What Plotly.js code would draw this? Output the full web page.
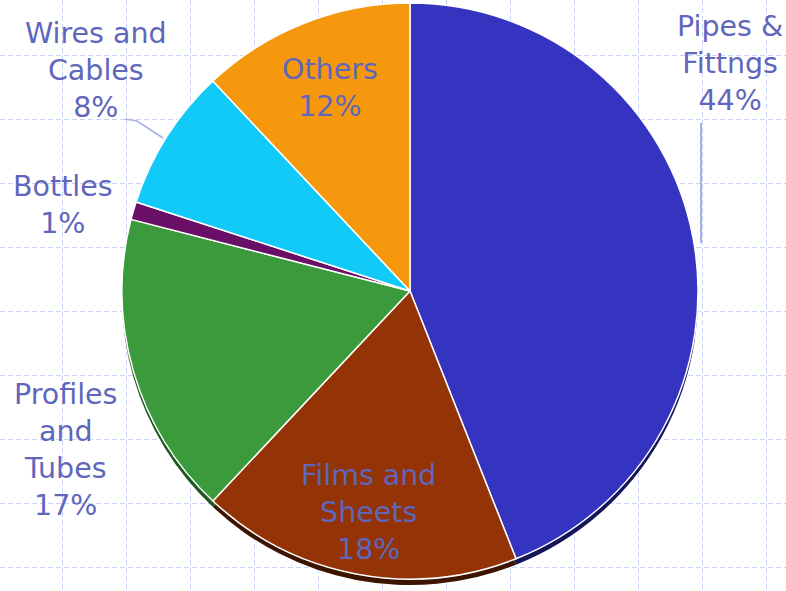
<!DOCTYPE html>
<html>
<head>
<meta charset="utf-8">
<script src="https://cdn.plot.ly/plotly-3.0.1.min.js"></script>
<style>html,body{margin:0;padding:0;background:#fff;}#chart{width:786px;height:591px;}</style>
</head>
<body>
<div id="chart"></div>
<script>
// Data (clockwise from 12 o'clock)
var labels = ["Pipes & Fittngs", "Films and Sheets", "Profiles and Tubes", "Bottles", "Wires and Cables", "Others"];
var labelLines = [["Pipes &", "Fittngs"], ["Films and", "Sheets"], ["Profiles", "and", "Tubes"], ["Bottles"], ["Wires and", "Cables"], ["Others"]];
var values = [44, 18, 17, 1, 8, 12];

// Styles
var faceColors = ["#3434c1", "#933306", "#3a9a3c", "#6a0f68", "#12caf8", "#f5980d"];
var rimColors = ["#15155a", "#3c1400", "#1e5a1e", "#300530", "#06607a", "#7a4a05"];
var textColor = "#5f66bb";
var fontFam = "'DejaVu Sans', Verdana, sans-serif";
var fontSize = 28.5;

// Label anchor positions (pixel-space axes), style only
var labelPos = [[730, 63], [368, 512], [65, 450], [63, 205], [96, 70], [330, 88]];

var total = values.reduce(function(a, b){ return a + b; }, 0);
var annotations = labels.map(function(l, i){
  var pct = Math.round(values[i] / total * 100) + "%";
  return {
    xref: "x", yref: "y", x: labelPos[i][0], y: labelPos[i][1],
    text: labelLines[i].concat([pct]).join("<br>"),
    showarrow: false, align: "center",
    font: {family: fontFam, size: fontSize, color: textColor}
  };
});

var W = 786, H = 591;
var cx = 410, cy = 291, r = 288, depth = 6;
function dom(shift){
  return {
    x: [(cx - r) / W, (cx + r) / W],
    y: [(H - cy - r - shift) / H, (H - cy + r - shift) / H]
  };
}

var data = [
  {type: "scatter", x: [], y: [], hoverinfo: "skip", showlegend: false},
  {type: "pie", labels: labels, values: values, sort: false, direction: "clockwise", rotation: 0,
   marker: {colors: rimColors, line: {color: "rgba(0,0,0,0)", width: 0}},
   textinfo: "none", hoverinfo: "skip", showlegend: false, domain: dom(depth)},
  {type: "pie", labels: labels, values: values, sort: false, direction: "clockwise", rotation: 0,
   marker: {colors: faceColors, line: {color: "#ffffff", width: 1.5}},
   textinfo: "none", hoverinfo: "label+percent", showlegend: false, domain: dom(0)}
];

var layout = {
  width: W, height: H,
  margin: {l: 0, r: 0, t: 0, b: 0},
  paper_bgcolor: "#ffffff", plot_bgcolor: "#ffffff",
  showlegend: false,
  xaxis: {range: [0, W], tick0: 62, dtick: 64, showgrid: true, gridcolor: "#c8d4f6", griddash: "5px,3px", gridwidth: 1,
          zeroline: false, showticklabels: false, ticks: "", showline: false, fixedrange: true},
  yaxis: {range: [H, 0], tick0: 55, dtick: 64, showgrid: true, gridcolor: "#c8d4f6", griddash: "5px,3px", gridwidth: 1,
          zeroline: false, showticklabels: false, ticks: "", showline: false, fixedrange: true},
  annotations: annotations,
  shapes: [
    {type: "line", xref: "x", yref: "y", x0: 701, y0: 123, x1: 701, y1: 243, line: {color: "#a8b0dc", width: 2}},
    {type: "path", xref: "x", yref: "y", path: "M 125 119 L 137 121 L 163 138", line: {color: "#a8b0dc", width: 1.5}}
  ]
};

Plotly.newPlot("chart", data, layout, {displayModeBar: false, staticPlot: true});
</script>
</body>
</html>
